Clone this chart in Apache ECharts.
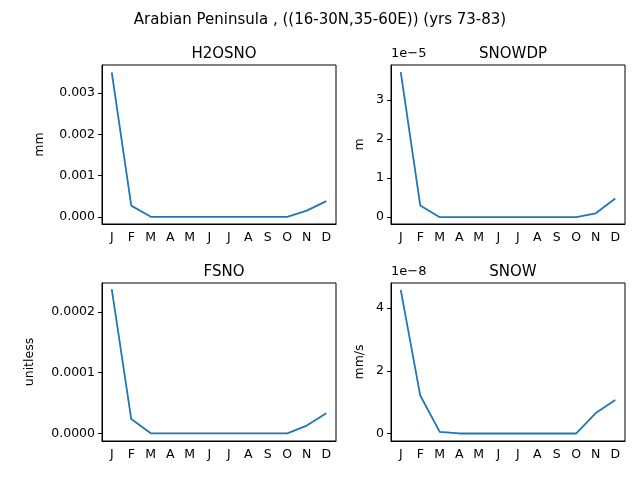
<!DOCTYPE html>
<html lang="en">
<head>
<meta charset="UTF-8">
<title>Arabian Peninsula snow</title>
<script src="https://cdn.jsdelivr.net/npm/echarts@6/dist/echarts.min.js"></script>
</head>
<body style="margin:0">
<div id="main" style="width:640px;height:480px;"></div>
<script>
var months = ['J', 'F', 'M', 'A', 'M', 'J', 'J', 'A', 'S', 'O', 'N', 'D'];
var h2osno = [0.0035, 0.00027, 0, 0, 0, 0, 0, 0, 0, 0, 0.00015, 0.00038];
var snowdp = [3.72e-5, 0.3e-5, 0, 0, 0, 0, 0, 0, 0, 0, 0.1e-5, 0.48e-5];
var fsno = [0.000238, 0.0000235, 0, 0, 0, 0, 0, 0, 0, 0, 0.0000127, 0.000033];
var snow = [4.58e-8, 1.21e-8, 0.05e-8, 0, 0, 0, 0, 0, 0, 0, 0.65e-8, 1.07e-8];

var font = 'DejaVu Sans';
var panels = [
    {title: 'H2OSNO', unit: 'mm', data: h2osno, left: 102, top: 65, h: 159, gap: 56, min: -0.000175, max: 0.00368, fmt: function (v) { return v.toFixed(3); }},
    {title: 'SNOWDP', unit: 'm', data: snowdp, left: 391, top: 65, h: 159, gap: 25, min: -0.175e-5, max: 3.9e-5, fmt: function (v) { return String(Math.round(v / 1e-5)); }},
    {title: 'FSNO', unit: 'unitless', data: fsno, left: 102, top: 283, h: 158, gap: 66, min: -0.0000127, max: 0.000248, fmt: function (v) { return v.toFixed(4); }},
    {title: 'SNOW', unit: 'mm/s', data: snow, left: 391, top: 283, h: 158, gap: 25, min: -0.24e-8, max: 4.8e-8, fmt: function (v) { return String(Math.round(v / 1e-8)); }}
];
var steps = [0.001, 1e-5, 0.0001, 2e-8];

var myChart = echarts.init(document.getElementById('main'));
var option = {
    animation: false,
    backgroundColor: '#fff',
    textStyle: {fontFamily: font},
    title: [{text: 'Arabian Peninsula , ((16-30N,35-60E)) (yrs 73-83)', left: 'center', top: 8,
        textStyle: {fontSize: 15, fontWeight: 'normal', color: '#000', fontFamily: font}}],
    grid: [], xAxis: [], yAxis: [], series: [],
    graphic: [
        {type: 'text', left: 391, top: 47, style: {text: '1e\u22125', fontSize: 13, fontFamily: font, fill: '#000'}},
        {type: 'text', left: 391, top: 265, style: {text: '1e\u22128', fontSize: 13, fontFamily: font, fill: '#000'}}
    ]
};
panels.forEach(function (p, i) {
    option.title.push({text: p.title, left: p.left + 117, textAlign: 'center', top: p.top - 23,
        textStyle: {fontSize: 15, fontWeight: 'normal', color: '#000', fontFamily: font}});
    option.grid.push({left: p.left, top: p.top, width: 234, height: p.h, show: true, borderColor: '#000', borderWidth: 1});
    option.xAxis.push({type: 'category', gridIndex: i, data: months, boundaryGap: true,
        axisLine: {onZero: false, lineStyle: {color: '#000'}}, axisTick: {alignWithLabel: true, length: 4, lineStyle: {color: '#000'}},
        axisLabel: {color: '#000', fontSize: 12.5, interval: 0, margin: 7}, splitLine: {show: false}});
    var s = steps[i];
    var ticks = [];
    for (var v = 0; v <= p.max; v += s) ticks.push(v);
    option.yAxis.push({type: 'value', gridIndex: i, min: p.min, max: p.max,
        name: p.unit, nameLocation: 'middle', nameRotate: 90, nameGap: p.gap,
        nameTextStyle: {color: '#000', fontSize: 12.5},
        axisLine: {show: true, lineStyle: {color: '#000'}},
        axisTick: {show: true, length: 4, customValues: ticks, lineStyle: {color: '#000'}},
        axisLabel: {color: '#000', fontSize: 12.5, customValues: ticks, formatter: p.fmt, margin: 7},
        splitLine: {show: false}});
    option.series.push({type: 'line', xAxisIndex: i, yAxisIndex: i, data: p.data, showSymbol: false,
        lineStyle: {color: '#1f77b4', width: 1.8}});
});
myChart.setOption(option);
</script>
</body>
</html>
